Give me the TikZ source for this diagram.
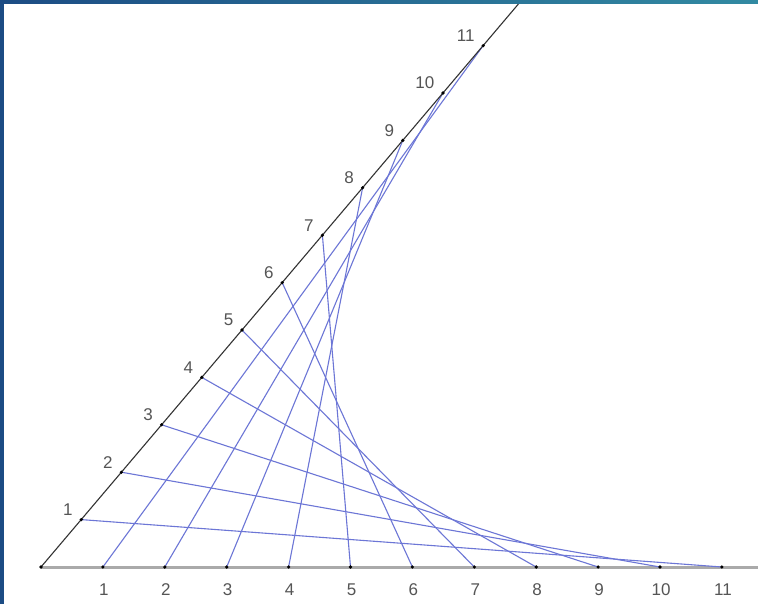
\documentclass[tikz,border=0pt]{standalone}
\usepackage{fontspec}
\setmainfont{Liberation Sans}
\definecolor{threadblue}{RGB}{108,118,214}
\definecolor{labelgray}{RGB}{85,85,85}
\definecolor{borderblue}{RGB}{28,76,132}
\definecolor{borderteal}{RGB}{50,138,162}
\definecolor{axisgray}{RGB}{170,170,170}
\begin{document}
\begin{tikzpicture}[x=1pt,y=-1pt,
  thread/.style={draw=threadblue,line width=1.1pt},
  armline/.style={draw=black!80,line width=1.1pt},
  baseaxis/.style={draw=axisgray,line width=3pt},
  dot/.style={circle,fill=black,inner sep=0pt,minimum size=3.6pt},
  lab/.style={font=\fontsize{17}{17}\selectfont,text=labelgray,inner sep=0pt}]
\useasboundingbox (0,0) rectangle (758,604);
\fill[white] (0,0) rectangle (758,604);
\coordinate (O) at (41,567);
\foreach \i in {1,...,11}{
  \coordinate (s\i) at ({41+\i*40.2},{567-\i*47.4});
  \coordinate (b\i) at ({41+\i*61.9},567);
}
\coordinate (sEnd) at (521.8,0);
\coordinate (bEnd) at (758,567);
\draw[baseaxis] (O) -- (bEnd);
\foreach \i in {1,...,11}{
  \pgfmathtruncatemacro\j{12-\i}
  \draw[thread] (s\i) -- (b\j);
}
\draw[armline] (O) -- (sEnd);
\node[dot] (dO) at (O) {};
\foreach \i in {1,...,11}{
  \node[dot] (ds\i) at (s\i) {};
  \node[dot] (db\i) at (b\i) {};
  \node[lab,anchor=east] (ls\i) at ([shift={(-8.5,-10)}]s\i) {\i};
  \node[lab] (lb\i) at ([shift={(1,23)}]b\i) {\i};
}
\shade[left color=borderblue,right color=borderteal] (0,0) rectangle (758,4);
\fill[borderblue] (0,0) rectangle (4,604);
\end{tikzpicture}
\end{document}
